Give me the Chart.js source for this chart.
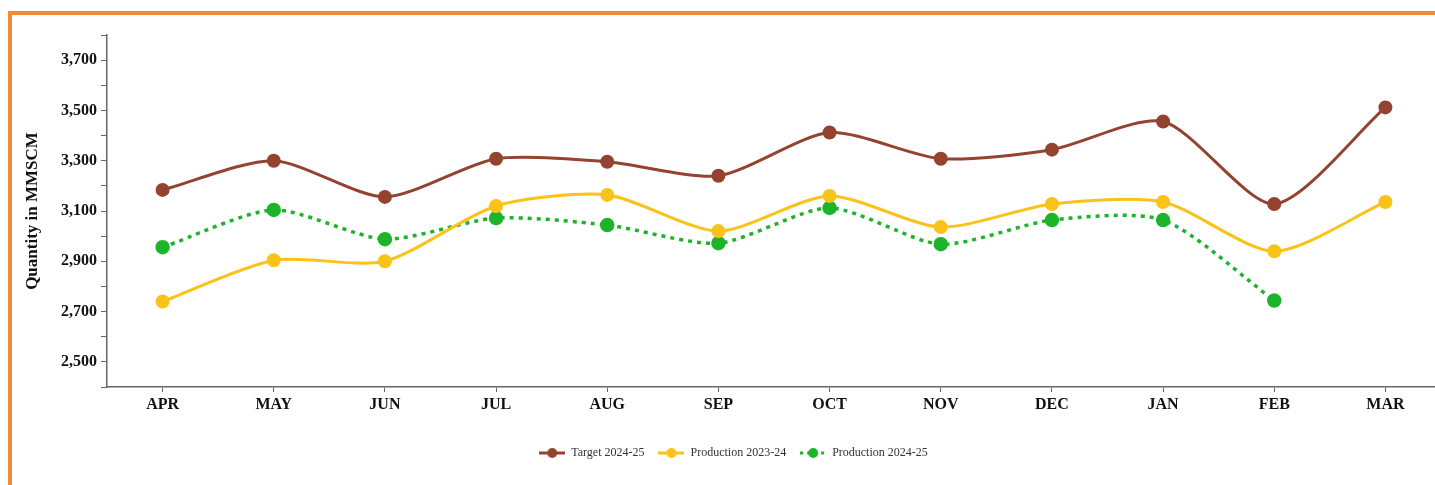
<!DOCTYPE html>
<html>
<head>
<meta charset="utf-8">
<script src="https://cdn.jsdelivr.net/npm/chart.js@4"></script>
<style>
  html, body { margin: 0; padding: 0; background: #fff; overflow: hidden; }
  body { width: 1435px; height: 485px; position: relative; }
  #frame {
    position: absolute; left: 8px; top: 11px; width: 1500px; height: 520px;
    border: 4px solid #F28B36; box-sizing: border-box;
  }
  #wrap { position: absolute; left: 0; top: 0; width: 1450px; height: 485px; }
</style>
</head>
<body>
<div id="frame"></div>
<div id="wrap"><canvas id="chart"></canvas></div>
<script>
const MONTHS = ["APR", "MAY", "JUN", "JUL", "AUG", "SEP", "OCT", "NOV", "DEC", "JAN", "FEB", "MAR"];
const TARGET_2425 = [3184, 3300, 3156, 3308, 3296, 3240, 3412, 3308, 3344, 3456, 3128, 3512];
const PROD_2324 = [2740, 2904, 2900, 3120, 3164, 3020, 3160, 3036, 3128, 3136, 2940, 3136];
const PROD_2425 = [2956, 3104, 2988, 3072, 3044, 2972, 3112, 2968, 3064, 3064, 2744, null];

const BROWN = '#93432F', YELLOW = '#FBC21A', GREEN = '#1DB32A';
const FONT = "'Liberation Serif', 'DejaVu Serif', serif";

// legend marker: short line with a dot in the middle
function legendMark(color, dashed) {
    let c = document.createElement('canvas');
    c.width = 26; c.height = 12;
    let g = c.getContext('2d');
    g.strokeStyle = color;
    g.lineWidth = 3;
    if (dashed) g.setLineDash([3, 4]);
    g.beginPath(); g.moveTo(0, 6); g.lineTo(26, 6); g.stroke();
    g.fillStyle = color;
    g.beginPath(); g.arc(13, 6, 5, 0, Math.PI * 2); g.fill();
    return c;
}

new Chart(document.getElementById('chart'), {
    type: 'line',
    data: {
        labels: MONTHS,
        datasets: [
            { label: 'Target 2024-25', data: TARGET_2425, borderColor: BROWN, backgroundColor: BROWN,
              borderWidth: 3, pointRadius: 5.5, tension: 0.25, mark: legendMark(BROWN, false) },
            { label: 'Production 2023-24', data: PROD_2324, borderColor: YELLOW, backgroundColor: YELLOW,
              borderWidth: 3, pointRadius: 5.5, tension: 0.25, mark: legendMark(YELLOW, false) },
            { label: 'Production 2024-25', data: PROD_2425, borderColor: GREEN, backgroundColor: GREEN,
              borderWidth: 3.5, borderDash: [4, 5], pointRadius: 5.5, tension: 0.25, mark: legendMark(GREEN, true) }
        ]
    },
    options: {
        responsive: true,
        maintainAspectRatio: false,
        animation: false,
        layout: { padding: { left: 22, right: 5, top: 35, bottom: 16 } },
        plugins: {
            tooltip: { enabled: false },
            legend: {
                position: 'bottom',
                labels: {
                    usePointStyle: true,
                    pointStyleWidth: 26,
                    padding: 14,
                    color: '#333',
                    font: { family: FONT, size: 12 },
                    generateLabels: chart => chart.data.datasets.map((ds, i) => ({
                        text: ds.label, pointStyle: ds.mark, datasetIndex: i,
                        fontColor: '#333', lineWidth: 0, hidden: false
                    }))
                }
            }
        },
        scales: {
            x: {
                offset: true,
                grid: { display: true, drawOnChartArea: false, tickLength: 5, color: '#666', offset: false },
                border: { color: '#666', width: 1.5 },
                ticks: { color: '#111', padding: 3, font: { family: FONT, size: 16, weight: 'bold' } },
                afterFit: s => { s.height = 46; }
            },
            y: {
                min: 2400,
                max: 3800,
                grid: { display: true, drawOnChartArea: false, tickLength: 6, color: '#666' },
                border: { color: '#666', width: 1.5 },
                ticks: {
                    stepSize: 100,
                    color: '#111',
                    padding: 4,
                    font: { family: FONT, size: 16, weight: 'bold' },
                    callback: v => ((v - 2500) % 200 === 0) ? v.toLocaleString('en-US') : ''
                },
                title: {
                    display: true, text: 'Quantity in MMSCM', color: '#111',
                    font: { family: FONT, size: 17, weight: 'bold' }, padding: { top: 0, bottom: 6 }
                },
                afterFit: s => { s.width = 85; }
            }
        }
    }
});
</script>
</body>
</html>
